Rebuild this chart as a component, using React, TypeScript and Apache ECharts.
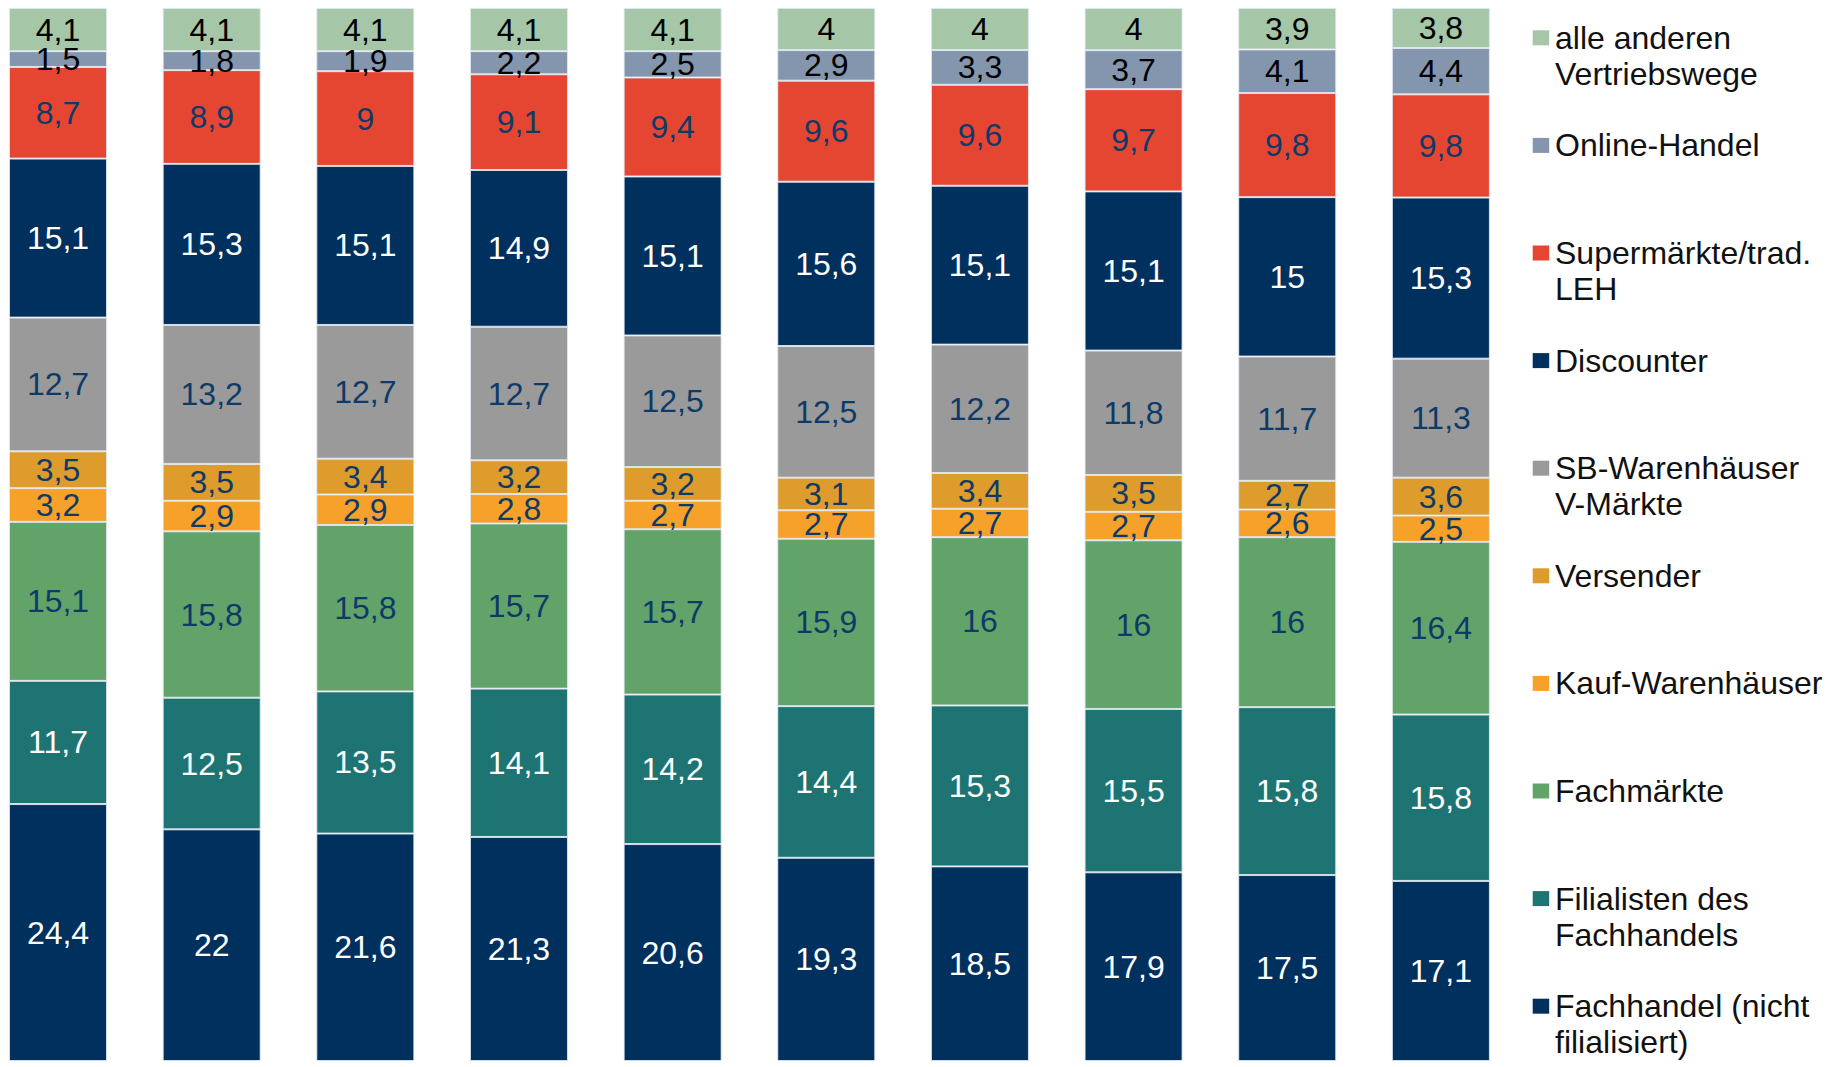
import React, { useEffect, useRef } from "react";
import * as echarts from "echarts";

const categories = ["1", "2", "3", "4", "5", "6", "7", "8", "9", "10"];

// Series from bottom to top of each stacked column
const seriesNames = [
  "Fachhandel (nicht\nfilialisiert)",
  "Filialisten des\nFachhandels",
  "Fachmärkte",
  "Kauf-Warenhäuser",
  "Versender",
  "SB-Warenhäuser\nV-Märkte",
  "Discounter",
  "Supermärkte/trad.\nLEH",
  "Online-Handel",
  "alle anderen\nVertriebswege",
];

const fachhandel = [24.4, 22, 21.6, 21.3, 20.6, 19.3, 18.5, 17.9, 17.5, 17.1];
const filialisten = [11.7, 12.5, 13.5, 14.1, 14.2, 14.4, 15.3, 15.5, 15.8, 15.8];
const fachmaerkte = [15.1, 15.8, 15.8, 15.7, 15.7, 15.9, 16, 16, 16, 16.4];
const kaufWarenhaeuser = [3.2, 2.9, 2.9, 2.8, 2.7, 2.7, 2.7, 2.7, 2.6, 2.5];
const versender = [3.5, 3.5, 3.4, 3.2, 3.2, 3.1, 3.4, 3.5, 2.7, 3.6];
const sbWarenhaeuser = [12.7, 13.2, 12.7, 12.7, 12.5, 12.5, 12.2, 11.8, 11.7, 11.3];
const discounter = [15.1, 15.3, 15.1, 14.9, 15.1, 15.6, 15.1, 15.1, 15, 15.3];
const supermaerkte = [8.7, 8.9, 9, 9.1, 9.4, 9.6, 9.6, 9.7, 9.8, 9.8];
const onlineHandel = [1.5, 1.8, 1.9, 2.2, 2.5, 2.9, 3.3, 3.7, 4.1, 4.4];
const alleAnderen = [4.1, 4.1, 4.1, 4.1, 4.1, 4, 4, 4, 3.9, 3.8];

const seriesValues = [
  fachhandel,
  filialisten,
  fachmaerkte,
  kaufWarenhaeuser,
  versender,
  sbWarenhaeuser,
  discounter,
  supermaerkte,
  onlineHandel,
  alleAnderen,
];

const seriesColors = [
  "#00305E",
  "#1E7472",
  "#62A36A",
  "#F5A12A",
  "#DD9C2B",
  "#9A9A9A",
  "#00305E",
  "#E54632",
  "#8496AD",
  "#A6C7A7",
];

const labelColors = [
  "#FFFFFF",
  "#FFFFFF",
  "#0E3A68",
  "#0E3A68",
  "#0E3A68",
  "#0E3A68",
  "#FFFFFF",
  "#0E3A68",
  "#000000",
  "#000000",
];

const FONT = "'Liberation Sans', Arial, Helvetica, sans-serif";
const OFFSET = 20; // chart div is shifted left by this amount

export default function App() {
  const ref = useRef<HTMLDivElement>(null);

  useEffect(() => {
    if (!ref.current) return;
    const chart = echarts.init(ref.current, undefined, { renderer: "svg" });

    const totals = categories.map((_, i) =>
      seriesValues.reduce((s, arr) => s + arr[i], 0)
    );

    const series = seriesNames.map((name, si) => ({
      name,
      type: "bar",
      stack: "total",
      barWidth: 98,
      data: seriesValues[si].map((v, i) => (v / totals[i]) * 100),
      itemStyle: {
        color: seriesColors[si],
        borderColor: "rgba(225,232,240,0.85)",
        borderWidth: 1,
      },
      label: {
        show: true,
        position: "inside",
        color: labelColors[si],
        fontSize: 32,
        fontFamily: FONT,
        formatter: (p: any) =>
          String(seriesValues[si][p.dataIndex]).replace(".", ","),
      },
      emphasis: { disabled: true },
    }));

    const legendGraphics: any[] = [];
    const order = [...seriesNames.keys()].reverse();
    order.forEach((si, row) => {
      const cy = 37.8 + row * 107.6;
      legendGraphics.push({
        type: "rect",
        shape: { x: 1532.7 + OFFSET, y: cy - 7.5, width: 16.5, height: 15 },
        style: { fill: seriesColors[si] },
      });
      legendGraphics.push({
        type: "text",
        x: 1555 + OFFSET,
        y: cy - 18,
        style: {
          text: seriesNames[si],
          fill: "#111111",
          fontSize: 32,
          fontFamily: FONT,
          lineHeight: 36,
          verticalAlign: "top",
          align: "left",
        },
      });
    });

    chart.setOption({
      animation: false,
      backgroundColor: "#FFFFFF",
      grid: { left: OFFSET - 18.8, top: 8, width: 1536.5, bottom: 6, containLabel: false },
      xAxis: {
        type: "category",
        data: categories,
        show: false,
      },
      yAxis: {
        type: "value",
        min: 0,
        max: 100,
        show: false,
      },
      series,
      graphic: legendGraphics,
    });

    return () => chart.dispose();
  }, []);

  return (
    <div
      ref={ref}
      style={{ position: "fixed", left: -OFFSET, top: 0, width: 1835 + OFFSET, height: 1067 }}
    />
  );
}
